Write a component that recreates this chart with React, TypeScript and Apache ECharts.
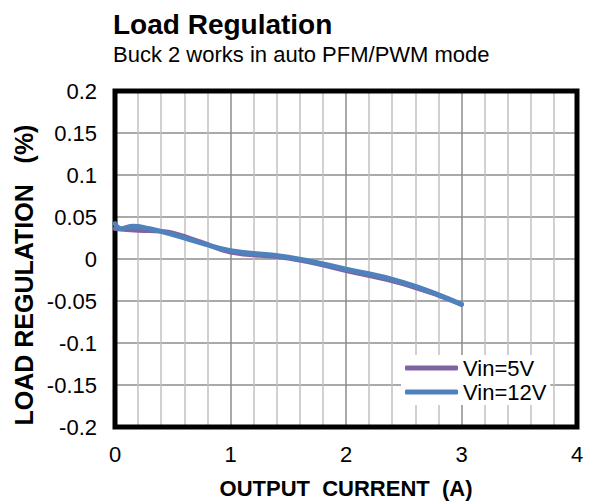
import React, { useEffect, useRef } from "react";
import * as echarts from "echarts";

const xTicks = [0, 1, 2, 3, 4];
const yTicks = [-0.2, -0.15, -0.1, -0.05, 0, 0.05, 0.1, 0.15, 0.2];
const seriesNames = ["Vin=5V", "Vin=12V"];
const current5V = [0, 0.2, 0.4, 0.5, 0.75, 1, 1.5, 2, 2.5, 3];
const reg5V = [0.036, 0.034, 0.033, 0.031, 0.02, 0.008, 0.001, -0.014, -0.03, -0.054];
const current12V = [0, 0.05, 0.15, 0.3, 0.5, 0.75, 1, 1.5, 2, 2.5, 3];
const reg12V = [0.042, 0.036, 0.039, 0.036, 0.029, 0.019, 0.01, 0.002, -0.012, -0.028, -0.054];
const colors = ["#8064A2", "#4F81BD"];

const FONT = "'Liberation Sans', Arial, sans-serif";

export default function App() {
  const ref = useRef<HTMLDivElement>(null);
  useEffect(() => {
    if (!ref.current) return;
    const chart = echarts.init(ref.current, null, { renderer: "svg" });
    const pair = (xs: number[], ys: number[]) => xs.map((x, i) => [x, ys[i]]);
    chart.setOption({
      animation: false,
      backgroundColor: "#fff",
      textStyle: { fontFamily: FONT },
      title: [
        {
          text: "Load Regulation",
          left: 113,
          top: 10,
          padding: 0,
          textStyle: { fontFamily: FONT, fontSize: 28, fontWeight: "bold", color: "#000" },
        },
        {
          text: "Buck 2 works in auto PFM/PWM mode",
          left: 113,
          top: 43,
          padding: 0,
          textStyle: { fontFamily: FONT, fontSize: 22, fontWeight: "normal", color: "#000" },
        },
      ],
      legend: {
        orient: "vertical",
        left: 401,
        top: 355,
        padding: [2, 4, 2, 4],
        backgroundColor: "#fff",
        itemWidth: 53,
        itemHeight: 5,
        itemGap: 2,
        icon: "roundRect",
        data: seriesNames,
        textStyle: { fontFamily: FONT, fontSize: 22, color: "#000", lineHeight: 22 },
      },
      grid: {
        left: 115,
        right: 14,
        top: 91,
        bottom: 74,
        show: true,
        borderColor: "#000",
        borderWidth: 5,
        backgroundColor: "transparent",
        z: 1,
      },
      xAxis: {
        type: "value",
        min: xTicks[0],
        max: xTicks[xTicks.length - 1],
        interval: 1,
        name: "OUTPUT  CURRENT  (A)",
        nameLocation: "middle",
        nameGap: 50,
        nameTextStyle: { fontFamily: FONT, fontSize: 22, fontWeight: "bold", color: "#000" },
        axisLine: { show: false },
        axisTick: { show: false },
        axisLabel: { fontFamily: FONT, fontSize: 22, color: "#000", margin: 16 },
        splitLine: { show: true, lineStyle: { color: "#8c8c8c", width: 1.5 } },
        minorTick: { show: false, splitNumber: 5 },
        minorSplitLine: { show: true, lineStyle: { color: "#c0c0c0", width: 1.5 } },
      },
      yAxis: {
        type: "value",
        min: yTicks[0],
        max: yTicks[yTicks.length - 1],
        interval: 0.05,
        axisLine: { show: false },
        axisTick: { show: false },
        axisLabel: { fontFamily: FONT, fontSize: 22, color: "#000", margin: 18 },
        splitLine: { show: true, lineStyle: { color: "#8c8c8c", width: 1.5 } },
      },
      graphic: [
        {
          type: "text",
          x: 24,
          y: 275,
          rotation: Math.PI / 2,
          style: {
            text: "LOAD REGULATION   (%)",
            font: `bold 25px ${FONT}`,
            fill: "#000",
            textAlign: "center",
            textVerticalAlign: "middle",
          },
        },
      ],
      series: [
        {
          name: seriesNames[0],
          type: "line",
          smooth: true,
          showSymbol: false,
          symbol: "none",
          data: pair(current5V, reg5V),
          lineStyle: { color: colors[0], width: 4.5, cap: "round" },
          itemStyle: { color: colors[0] },
          z: 3,
        },
        {
          name: seriesNames[1],
          type: "line",
          smooth: true,
          showSymbol: false,
          symbol: "none",
          data: pair(current12V, reg12V),
          lineStyle: { color: colors[1], width: 5, cap: "round" },
          itemStyle: { color: colors[1] },
          z: 4,
        },
      ],
    });
    return () => chart.dispose();
  }, []);
  return (
    <div
      ref={ref}
      style={{ position: "absolute", left: 0, top: 0, width: 591, height: 504 }}
    />
  );
}
